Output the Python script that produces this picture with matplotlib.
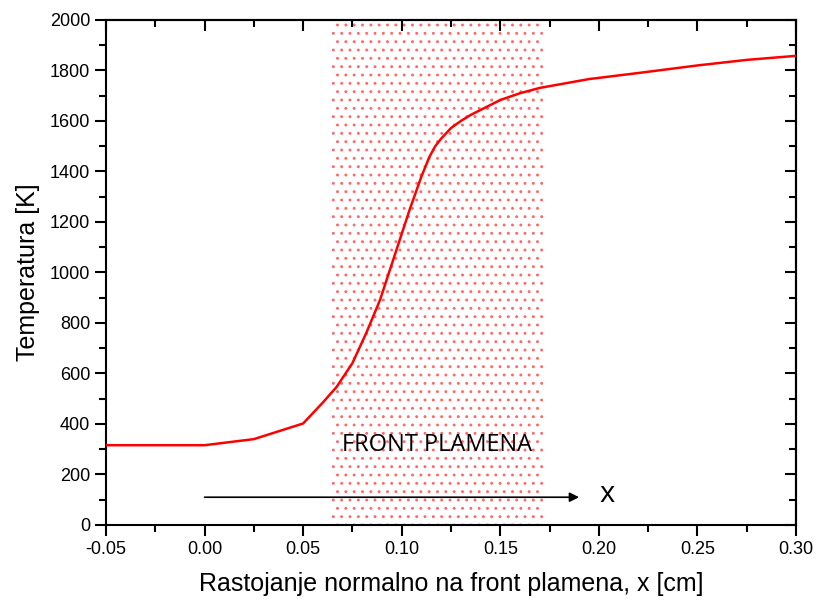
import matplotlib.pyplot as plt
from matplotlib.ticker import MultipleLocator, FormatStrFormatter

# temperature profile across the flame front
x_cm = [-0.05, 0.0, 0.025, 0.05, 0.06, 0.067, 0.075, 0.082, 0.089, 0.094, 0.098,
        0.104, 0.110, 0.114, 0.117, 0.120, 0.125, 0.130, 0.135, 0.150, 0.160,
        0.170, 0.195, 0.220, 0.250, 0.275, 0.30]
temp_k = [316, 316, 340, 402, 485, 547, 641, 760, 891, 1010, 1105,
          1248, 1380, 1457, 1500, 1530, 1572, 1600, 1624, 1683, 1710,
          1731, 1766, 1790, 1820, 1842, 1858]

front_start = 0.064
front_end = 0.172
arrow_start = 0.0
arrow_end = 0.19
arrow_y = 110

plt.rcParams['font.family'] = ['Liberation Sans', 'DejaVu Sans']
plt.rcParams['hatch.linewidth'] = 0.9

fig = plt.figure(figsize=(8.19, 6.04), dpi=100)
ax = fig.add_axes([0.1294, 0.1308, 0.8425, 0.8361])

ax.axvspan(front_start, front_end, facecolor='none', edgecolor='#ff6868',
           hatch='..', linewidth=0, zorder=0)
ax.plot(x_cm, temp_k, color='red', linewidth=1.8, zorder=3)

ax.annotate('', xy=(arrow_end, arrow_y), xytext=(arrow_start, arrow_y),
            arrowprops=dict(arrowstyle='-|>', color='black', lw=1.2,
                            mutation_scale=14, shrinkA=0, shrinkB=0))
ax.text(arrow_end + 0.014, arrow_y + 10, 'x', fontsize=21, family='Open Sans',
        ha='center', va='center')
ax.text((front_start + front_end) / 2, 318, 'FRONT PLAMENA', fontsize=17,
        family='Open Sans', ha='center', va='center')

ax.set_xlim(-0.05, 0.30)
ax.set_ylim(0, 2000)
ax.xaxis.set_major_locator(MultipleLocator(0.05))
ax.xaxis.set_minor_locator(MultipleLocator(0.025))
ax.xaxis.set_major_formatter(FormatStrFormatter('%.2f'))
ax.yaxis.set_major_locator(MultipleLocator(200))
ax.yaxis.set_minor_locator(MultipleLocator(100))

ax.tick_params(which='major', direction='out', length=8, width=1.5, labelsize=13)
ax.tick_params(which='minor', direction='out', length=5, width=1.5)
for s in ax.spines.values():
    s.set_linewidth(1.5)

top = ax.secondary_xaxis('top')
top.xaxis.set_major_locator(MultipleLocator(0.05))
top.xaxis.set_minor_locator(MultipleLocator(0.025))
top.tick_params(which='major', direction='in', length=8, width=1.5, labeltop=False)
top.tick_params(which='minor', direction='in', length=5, width=1.5)
top.spines['top'].set_linewidth(1.5)

right = ax.secondary_yaxis('right')
right.yaxis.set_major_locator(MultipleLocator(200))
right.yaxis.set_minor_locator(MultipleLocator(100))
right.tick_params(which='major', direction='in', length=8, width=1.5, labelright=False)
right.tick_params(which='minor', direction='in', length=5, width=1.5)
right.spines['right'].set_linewidth(1.5)

ax.set_xlabel('Rastojanje normalno na front plamena, x [cm]', fontsize=18, labelpad=10)
ax.set_ylabel('Temperatura [K]', fontsize=18, labelpad=7)

fig.savefig('out.png', dpi=100)
